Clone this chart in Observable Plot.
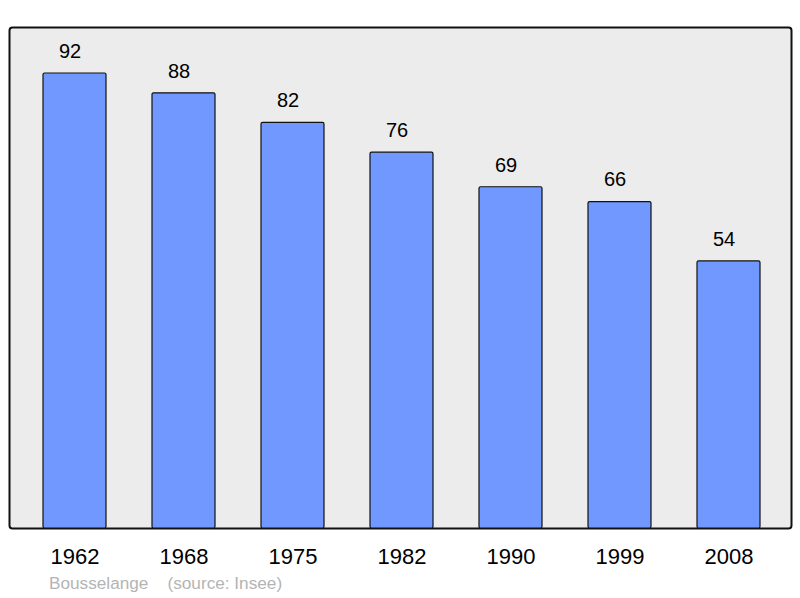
<!DOCTYPE html>
<html><head><meta charset="utf-8">
<script src="https://cdn.jsdelivr.net/npm/d3@7"></script>
<script src="https://cdn.jsdelivr.net/npm/@observablehq/plot@0.6"></script>
<style>
body{margin:0;background:#fff;font-family:"Liberation Sans",Arial,sans-serif;}
#wrap{position:relative;width:800px;height:598px;}
#cap{position:absolute;left:49px;top:573px;font-size:17.2px;color:#b4b4b4;white-space:pre;font-family:"Liberation Sans",Arial,sans-serif;}
</style></head>
<body><div id="wrap"><div id="cap">Bousselange    (source: Insee)</div></div>
<script>
const years = ["1962","1968","1975","1982","1990","1999","2008"];
const population = [92, 88, 82, 76, 69, 66, 54];
const data = years.map((y,i)=>({year:y, pop:population[i]}));
const chart = Plot.plot({
  width: 800, height: 598,
  marginTop: 27, marginBottom: 70, marginLeft: 9, marginRight: 9,
  style: {fontFamily: '"Liberation Sans", Arial, sans-serif', background: "transparent"},
  x: {domain: years, padding: 0.424, paddingOuter: 0, range: [42, 761], label: null},
  y: {domain: [0, 101.3], axis: null},
  marks: [
    Plot.frame({fill: "#ececec", stroke: "#111", strokeWidth: 2, rx: 3}),
    Plot.barY(data, {x: "year", y: "pop", fill: "#7098ff", stroke: "#111", strokeWidth: 1.2, rx: 1.5}),
    Plot.text(data, {x: "year", y: "pop", text: d => String(d.pop), dy: -22, dx: -5, fontSize: 20, fill: "#000"}),
    Plot.axisX({tickSize: 0, tickPadding: 20, fontSize: 22, fill: "#000", label: null})
  ]
});
document.getElementById("wrap").prepend(chart);
</script></body></html>
